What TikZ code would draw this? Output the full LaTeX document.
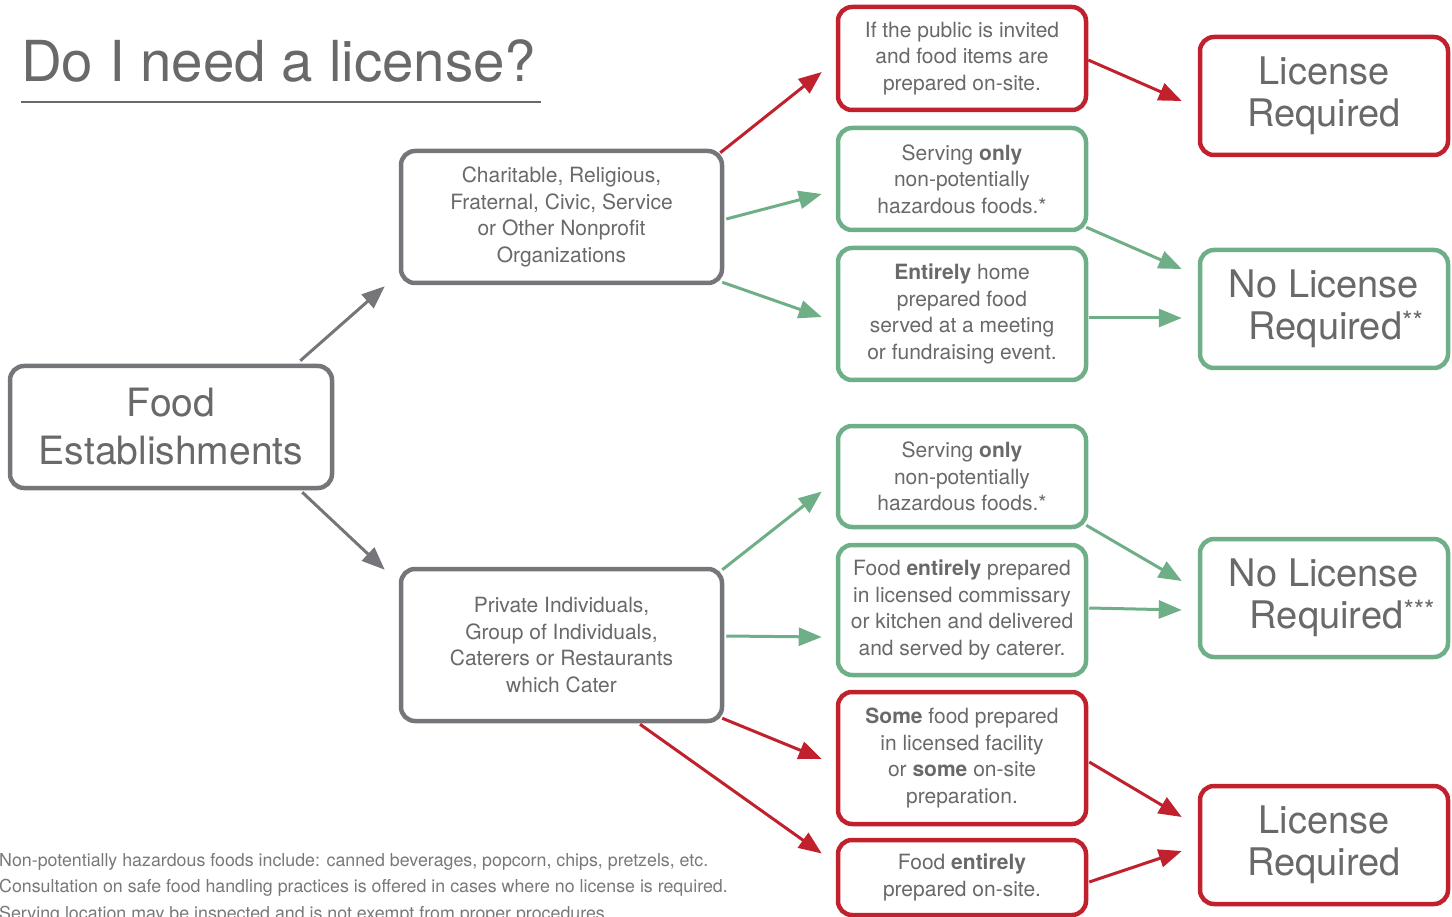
\documentclass[tikz,border=0pt]{standalone}
\usepackage{fontspec}
\setmainfont{TeX Gyre Heros}
\usetikzlibrary{arrows.meta,calc}
\definecolor{lred}{RGB}{193,33,45}
\definecolor{lgreen}{RGB}{110,175,135}
\definecolor{lgrey}{RGB}{118,118,122}
\definecolor{ltext}{RGB}{105,105,105}
\definecolor{lnote}{RGB}{120,120,120}
\begin{document}
\begin{tikzpicture}[x=1pt,y=-1pt,
  box/.style={draw, line width=4.5pt, rounded corners=14pt, fill=white, text=ltext, align=center, inner sep=0pt, font=\fontsize{21}{26.6}\selectfont},
  redbox/.style={box, draw=lred},
  greenbox/.style={box, draw=lgreen},
  greybox/.style={box, draw=lgrey},
  colbox/.style={minimum width=248pt},
  bigtext/.style={font=\fontsize{38}{42}\selectfont},
  arr/.style={line width=3pt, -{Triangle[length=23pt,width=18pt]}},
  redarr/.style={arr, draw=lred, fill=lred},
  greenarr/.style={arr, draw=lgreen, fill=lgreen},
  greyarr/.style={arr, draw=lgrey, fill=lgrey}
]
\useasboundingbox (0,0) rectangle (1452,917);

% title
\node[anchor=base west, inner sep=0pt, text=ltext, font=\fontsize{56.5}{60}\selectfont] (title) at (21,82) {Do I need a license?};
\coordinate (ul1) at (21,102);
\coordinate (ul2) at (541,102);
\draw[line width=2pt, draw=ltext] (ul1) -- (ul2);

% left boxes
\node[greybox, minimum width=322pt, minimum height=122pt, font=\fontsize{39}{48}\selectfont] (food) at (171,427) {Food\\Establishments};
\node[greybox, minimum width=321pt, minimum height=132pt] (char) at (561.5,217) {Charitable, Religious,\\Fraternal, Civic, Service\\or Other Nonprofit\\Organizations};
\node[greybox, minimum width=321pt, minimum height=152pt] (priv) at (561.5,645) {Private Individuals,\\Group of Individuals,\\Caterers or Restaurants\\which Cater};

% middle column
\node[redbox, colbox, minimum height=103pt] (b1) at (962,58.5) {If the public is invited\\and food items are\\prepared on-site.};
\node[greenbox, colbox, minimum height=102pt] (b2) at (962,179) {Serving \textbf{only}\\non-potentially\\hazardous foods.*};
\node[greenbox, colbox, minimum height=132pt] (b3) at (962,314) {\textbf{Entirely} home\\prepared food\\served at a meeting\\or fundraising event.};
\node[greenbox, colbox, minimum height=101pt] (b4) at (962,476.5) {Serving \textbf{only}\\non-potentially\\hazardous foods.*};
\node[greenbox, colbox, minimum height=130pt] (b5) at (962,610) {Food \textbf{entirely} prepared\\in licensed commissary\\or kitchen and delivered\\and served by caterer.};
\node[redbox, colbox, minimum height=132pt] (b6) at (962,758) {\textbf{Some} food prepared\\in licensed facility\\or \textbf{some} on-site\\preparation.};
\node[redbox, colbox, minimum height=75pt] (b7) at (962,877.5) {Food \textbf{entirely}\\prepared on-site.};

% right column
\node[redbox, colbox, bigtext, minimum height=118pt] (r1) at (1324,96) {License\\Required};
\node[greenbox, colbox, bigtext, minimum height=118pt] (r2) at (1324,309) {No License\\\hspace*{24pt}Required\textsuperscript{**}};
\node[greenbox, colbox, bigtext, minimum height=118pt] (r3) at (1324,598) {No License\\\hspace*{37pt}Required\textsuperscript{***}};
\node[redbox, colbox, bigtext, minimum height=118pt] (r4) at (1324,845) {License\\Required};

% footnotes
\node[anchor=base west, inner sep=0pt, align=left, text=lnote, font=\fontsize{17.8}{26.5}\selectfont] (notes) at (-1,919) {Non-potentially hazardous foods include: canned beverages, popcorn, chips, pretzels, etc.\\Consultation on safe food handling practices is offered in cases where no license is required.\\Serving location may be inspected and is not exempt from proper procedures.};

% arrows
\draw[greyarr] ($(food.north east)+(-34,-3)$) -- ($(char.south west)+(-14,1)$);
\draw[greyarr] ($(food.south east)+(-32,2)$) -- ($(priv.north west)+(-14,3)$);

\draw[redarr] ($(char.north east)+(-4,4)$) -- ($(b1.west)+(-14,13.5)$);
\draw[greenarr] ($(char.east)+(2,2)$) -- ($(b2.west)+(-14,15)$);
\draw[greenarr] ($(char.south east)+(-2,-3)$) -- ($(b3.west)+(-14,3)$);

\draw[greenarr] ($(priv.north east)+(-2,3)$) -- ($(b4.west)+(-14,15)$);
\draw[greenarr] ($(priv.east)+(2,-9)$) -- ($(b5.west)+(-14,27)$);
\draw[redarr] ($(priv.south east)+(-2,-5)$) -- ($(b6.west)+(-14,1)$);
\draw[redarr] ($(priv.south)+(78.5,1)$) -- ($(b7.west)+(-14,-24)$);

\draw[redarr] ($(b1.east)+(0,1.5)$) -- ($(r1.west)+(-16,5)$);
\draw[greenarr] ($(b2.south east)+(-2,-5)$) -- ($(r2.west)+(-16,-40)$);
\draw[greenarr] ($(b3.east)+(1,4)$) -- ($(r2.west)+(-16,9)$);
\draw[greenarr] ($(b4.south east)+(-2,-4)$) -- ($(r3.west)+(-16,-17)$);
\draw[greenarr] ($(b5.east)+(1,-2)$) -- ($(r3.west)+(-16,12)$);
\draw[redarr] ($(b6.east)+(1,4)$) -- ($(r4.west)+(-16,-28)$);
\draw[redarr] ($(b7.east)+(1,4.5)$) -- ($(r4.west)+(-16,6)$);
\end{tikzpicture}
\end{document}
